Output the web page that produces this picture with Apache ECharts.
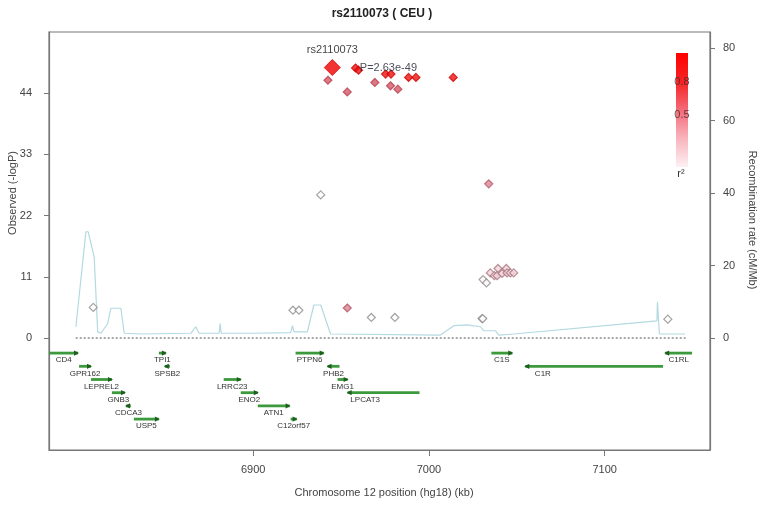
<!DOCTYPE html>
<html><head><meta charset="utf-8">
<script src="https://cdn.jsdelivr.net/npm/echarts@6/dist/echarts.min.js"></script>
<style>html,body{margin:0;padding:0;background:#fff}#c{width:764px;height:506px}</style>
</head><body><div id="c"></div>
<script>
// ---------- DATA ----------
const chartTitle = 'rs2110073 ( CEU )';
const leadName = 'rs2110073';
const leadP = '2.63e-49';
const leadPos = 6945.0;
const leadLogP = 48.58;

const snpPos  = [6958.2, 6959.9, 6942.5, 6953.5, 6969.2, 6975.3, 6978.4, 6978.1, 6982.3, 6988.4, 6992.6, 7013.8,
                 6938.4, 7034.0,
                 7030.8, 7032.7, 7034.9, 7037.2, 7039.3, 7038.8, 7041.6, 7044.0, 7044.4, 7046.3, 7048.2,
                 6809.0, 6922.6, 6926.0, 6953.5, 6967.2, 6980.6, 7030.2, 7030.6, 7135.9];
const snpLogP = [48.5, 48.1, 46.3, 44.2, 45.9, 47.4, 47.4, 45.3, 44.7, 46.8, 46.8, 46.8,
                 25.7, 27.7,
                 10.5, 9.9, 11.7, 11.2, 12.5, 11.2, 11.6, 12.5, 11.7, 11.7, 11.7,
                 5.5, 5.0, 5.0, 5.4, 3.7, 3.7, 3.5, 3.5, 3.4];
const snpR2   = [1, 1, 0.7, 0.7, 0.7, 1, 1, 0.7, 0.7, 1, 1, 1,
                 0, 0.5,
                 0.05, 0.05, 0.3, 0.3, 0.3, 0.3, 0.3, 0.3, 0.3, 0.3, 0.3,
                 0, 0, 0, 0.5, 0, 0, 0, 0, 0];

const recombPos  = [6799.1, 6804.8, 6806.1, 6809.5, 6811.5, 6813.4, 6817.2, 6819.0, 6824.7, 6826.6, 6836.1,
                    6864.5, 6867.3, 6869.2, 6880.6, 6881.2, 6881.8, 6900.3, 6921.3, 6922.3, 6923.2, 6930.8,
                    6934.5, 6938.4, 6944.0, 7006.5, 7014.1, 7021.7, 7029.3, 7031.1, 7037.8, 7039.7, 7048.2,
                    7129.7, 7130.0, 7131.1, 7145.7];
const recombRate = [3.1, 29.3, 29.3, 22.4, 1.7, 1.3, 4.0, 8.2, 8.2, 1.3, 1.1,
                    1.3, 3.1, 1.3, 1.3, 4.0, 1.3, 1.3, 1.5, 3.4, 1.7, 1.7,
                    9.1, 9.1, 1.1, 0.8, 3.4, 3.6, 3.1, 2.0, 2.0, 0.8, 1.1,
                    4.7, 10.0, 1.1, 1.1];

const geneNames  = ['CD4','GPR162','LEPREL2','GNB3','CDCA3','USP5','TPI1','SPSB2','LRRC23','ENO2','ATN1','C12orf57',
                    'PTPN6','PHB2','EMG1','LPCAT3','C1S','C1R','C1RL'];
const geneStart  = [6784.0, 6800.9, 6807.7, 6819.6, 6827.6, 6832.1, 6846.3, 6849.7, 6883.2, 6892.9, 6902.6, 6921.3,
                    6924.1, 6942.3, 6948.0, 6953.7, 7035.5, 7054.8, 7134.4];
const geneEnd    = [6800.3, 6807.7, 6819.6, 6827.0, 6830.4, 6846.3, 6850.3, 6852.6, 6892.9, 6902.6, 6920.7, 6924.7,
                    6940.1, 6949.1, 6953.7, 6994.6, 7047.4, 7133.2, 7149.7];
const geneRow    = [0, 1, 2, 3, 4, 5, 0, 1, 2, 3, 4, 5, 0, 1, 2, 3, 0, 1, 0];
const geneStrand = [1, 1, 1, 1, -1, 1, 1, -1, 1, 1, 1, 1, 1, -1, 1, -1, 1, -1, -1];

const xTicks = [6900, 7000, 7100];
const yTicksLeft = [0, 11, 22, 33, 44];
const yTicksRight = [0, 20, 40, 60, 80];
const baselineRange = [6799, 7146];
const r2TickLabels = ['0.8', '0.5'];

// ---------- STYLE HELPERS ----------
const FONT = '"Liberation Sans", Arial, sans-serif';
const r2Stops = [0, 0.25, 0.5, 0.7, 1];
const fillStops = ['#ffffff', '#f7e8ec', '#dc8494', '#d65868', '#ee1111'];
const borderStops = ['#8c8c8c', '#a67c86', '#b25566', '#b84050', '#d40000'];
function hex2rgb(h){ return [parseInt(h.slice(1,3),16), parseInt(h.slice(3,5),16), parseInt(h.slice(5,7),16)]; }
function interp(stops, r){
  let i = 0;
  while (i < r2Stops.length - 2 && r > r2Stops[i+1]) i++;
  const t = Math.max(0, Math.min(1, (r - r2Stops[i]) / (r2Stops[i+1] - r2Stops[i])));
  const a = hex2rgb(stops[i]), b = hex2rgb(stops[i+1]);
  return 'rgb(' + a.map((v,k)=>Math.round(v + (b[k]-v)*t)).join(',') + ')';
}

const snpItems = snpPos.map((x,i)=>({
  value:[x, snpLogP[i], snpR2[i]],
  itemStyle:{color: interp(fillStops, snpR2[i]), borderColor: interp(borderStops, snpR2[i]), borderWidth:1.2}
})).sort((a,b)=>a.value[2]-b.value[2]);

const recombData = recombPos.map((x,i)=>[x, recombRate[i]]);
const geneData = geneNames.map((n,i)=>[geneStart[i], geneEnd[i], geneRow[i], geneStrand[i], i]);

const GENE_Y0 = -2.7, GENE_DY = 2.37;

const chart = echarts.init(document.getElementById('c'), null, {renderer:'canvas'});
chart.setOption({
  animation:false,
  backgroundColor:'#fff',
  textStyle:{fontFamily:FONT},
  title:{text:chartTitle, left:'center', top:3, textStyle:{fontSize:12, fontWeight:'bold', color:'#222', fontFamily:FONT}},
  grid:{left:49, right:54, top:32, bottom:56, show:true, borderColor:'#777', borderWidth:1.2, backgroundColor:'transparent'},
  xAxis:{
    type:'value', min:6783.8, max:7159.9,
    axisLine:{show:true, onZero:false, lineStyle:{color:'#777', width:1.2}},
    axisTick:{show:true, length:6, customValues:xTicks, lineStyle:{color:'#777'}},
    axisLabel:{customValues:xTicks, formatter:function(v){return String(v);}, fontSize:11, color:'#444', margin:14, fontFamily:FONT},
    splitLine:{show:false}
  },
  yAxis:[{
    type:'value', min:-20.1, max:54.96,
    axisLine:{show:true, onZero:false, lineStyle:{color:'#777', width:1.2}},
    axisTick:{show:true, length:5, customValues:yTicksLeft, lineStyle:{color:'#777'}},
    axisLabel:{customValues:yTicksLeft, fontSize:11, color:'#444', margin:17, fontFamily:FONT},
    splitLine:{show:false}
  },{
    type:'value', min:-30.9, max:84.41, position:'right',
    axisLine:{show:true, onZero:false, lineStyle:{color:'#777', width:1.2}},
    axisTick:{show:true, length:5, customValues:yTicksRight, lineStyle:{color:'#777'}},
    axisLabel:{customValues:yTicksRight, fontSize:11, color:'#444', margin:13, fontFamily:FONT},
    splitLine:{show:false}
  }],
  graphic:[
    {type:'text', x:13, y:193, rotation:Math.PI/2, style:{text:'Observed (-logP)', font:'11px '+FONT, fill:'#444', align:'center', verticalAlign:'middle'}},
    {type:'text', x:752, y:220, rotation:-Math.PI/2, style:{text:'Recombination rate (cM/Mb)', font:'11px '+FONT, fill:'#444', align:'center', verticalAlign:'middle'}},
    {type:'text', x:384, y:493, style:{text:'Chromosome 12 position (hg18) (kb)', font:'11px '+FONT, fill:'#444', align:'center', verticalAlign:'middle'}},
    {type:'rect', shape:{x:676, y:53, width:12, height:114}, style:{fill:new echarts.graphic.LinearGradient(0,0,0,1,[
      {offset:0, color:'#ff0000'},{offset:0.25, color:'#f52424'},{offset:0.5, color:'#f46a78'},{offset:0.75, color:'#f8b4bd'},{offset:1, color:'#fdf1f4'}])}},
    {type:'text', x:682, y:82, style:{text:r2TickLabels[0], font:'11px '+FONT, fill:'rgba(70,40,40,0.8)', align:'center', verticalAlign:'middle'}},
    {type:'text', x:682, y:115, style:{text:r2TickLabels[1], font:'11px '+FONT, fill:'rgba(70,40,40,0.8)', align:'center', verticalAlign:'middle'}},
    {type:'text', x:681, y:174, style:{text:'r²', font:'11px '+FONT, fill:'#333', align:'center', verticalAlign:'middle'}}
  ],
  series:[
    {type:'line', yAxisIndex:1, data:recombData, showSymbol:false, symbol:'none', lineStyle:{color:'#b3d9e1', width:1.2}, z:1, silent:true},
    {type:'line', yAxisIndex:0, data:[[baselineRange[0],0],[baselineRange[1],0]], symbol:'none', lineStyle:{color:'#8a8a8a', width:1.5, type:[2,2]}, z:2, silent:true},
    {type:'custom', yAxisIndex:0, data:geneData, clip:true, z:3,
      renderItem:function(params, api){
        const s = api.value(0), e = api.value(1), row = api.value(2), strand = api.value(3), idx = api.value(4);
        const yv = GENE_Y0 - row*GENE_DY;
        const p1 = api.coord([s, yv]), p2 = api.coord([e, yv]);
        const y = p1[1];
        const dir = strand > 0 ? 1 : -1;
        const head = strand > 0 ? p2[0] : p1[0];
        const lx = api.coord([Math.min((s+e)/2, s + 10), yv])[0];
        return {type:'group', children:[
          {type:'line', shape:{x1:p1[0], y1:y, x2:p2[0], y2:y}, style:{stroke:'#3c9a3c', lineWidth:2.8}},
          {type:'polygon', shape:{points:[[head + dir*1, y],[head - dir*4, y-2.6],[head - dir*4, y+2.6]]}, style:{fill:'#1e5e1e'}},
          {type:'text', style:{text:geneNames[idx], x:lx, y:y+7, align:'center', verticalAlign:'middle', font:'8px '+FONT, fill:'#333'}}
        ]};
      }
    },
    {type:'scatter', yAxisIndex:0, data:snpItems, symbol:'diamond', symbolSize:8, z:5},
    {type:'scatter', yAxisIndex:0, data:[[leadPos, leadLogP]], symbol:'diamond', symbolSize:16, z:6,
      itemStyle:{color:'#ee0000', borderColor:'#dd0000', borderWidth:1},
      label:{show:true, position:'top', distance:4, formatter:leadName, fontSize:11, color:'#111', fontFamily:FONT}},
    {type:'scatter', yAxisIndex:0, data:[[leadPos, leadLogP]], symbol:'circle', symbolSize:1, z:7,
      itemStyle:{color:'rgba(0,0,0,0)'},
      label:{show:true, position:'right', distance:27, formatter:'P=' + leadP, fontSize:11, color:'#223', fontFamily:FONT}}
  ]
});
</script>
</body></html>
